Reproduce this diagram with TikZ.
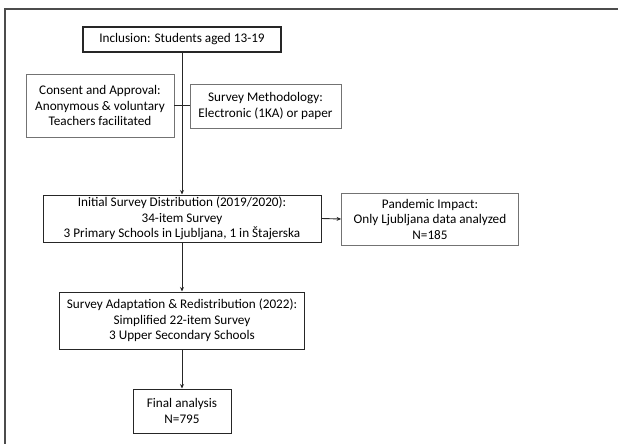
\documentclass[tikz,border=0pt]{standalone}
\usepackage{fontspec}
\setmainfont{Carlito}
\usetikzlibrary{arrows.meta}
\begin{document}
\begin{tikzpicture}[x=1pt,y=-1pt,
  base/.style={draw, align=center, inner sep=0pt, font=\fontsize{13.2}{15.5}\selectfont},
  thick box/.style={base, line width=1.3pt, draw=black!85},
  thin box/.style={base, line width=0.6pt, draw=black!55},
  conn/.style={line width=0.9pt, draw=black!85},
  arr/.style={conn, -{Stealth[length=4.5pt,width=4pt]}}]
\useasboundingbox (0,0) rectangle (618,444);
\draw[line width=1.2pt, draw=black!70] (5,444) -- (5,9) -- (618,9);
\node[thick box, minimum width=198pt, minimum height=25pt] (incl) at (182,39.5) {Inclusion: Students aged 13-19};
\node[thin box, minimum width=148pt, minimum height=63pt] (consent) at (100,105.5) {Consent and Approval:\\Anonymous \& voluntary\\Teachers facilitated};
\node[thin box, minimum width=151pt, minimum height=44pt] (method) at (265.5,106) {Survey Methodology:\\Electronic (1KA) or paper};
\node[thick box, line width=1pt, minimum width=278pt, minimum height=47pt] (init) at (182,218.5) {Initial Survey Distribution (2019/2020):\\34-item Survey\\3 Primary Schools in Ljubljana, 1 in Štajerska};
\node[thin box, line width=0.8pt, minimum width=177pt, minimum height=52pt] (pand) at (430,219) {Pandemic Impact:\\Only Ljubljana data analyzed\\N=185};
\node[thick box, line width=1pt, minimum width=245pt, minimum height=57pt] (adapt) at (182,320.5) {Survey Adaptation \& Redistribution (2022):\\Simplified 22-item Survey\\3 Upper Secondary Schools};
\node[thick box, line width=1pt, minimum width=98pt, minimum height=44pt] (final) at (182,411) {Final analysis\\N=795};
\draw[arr] (incl.south) -- (init.north);
\draw[conn] (consent.east) -- (consent.east -| method.west);
\draw[arr] (init.east) -- (pand.west);
\draw[arr] (init.south) -- (adapt.north);
\draw[arr] (adapt.south) -- (final.north);
\end{tikzpicture}
\end{document}
